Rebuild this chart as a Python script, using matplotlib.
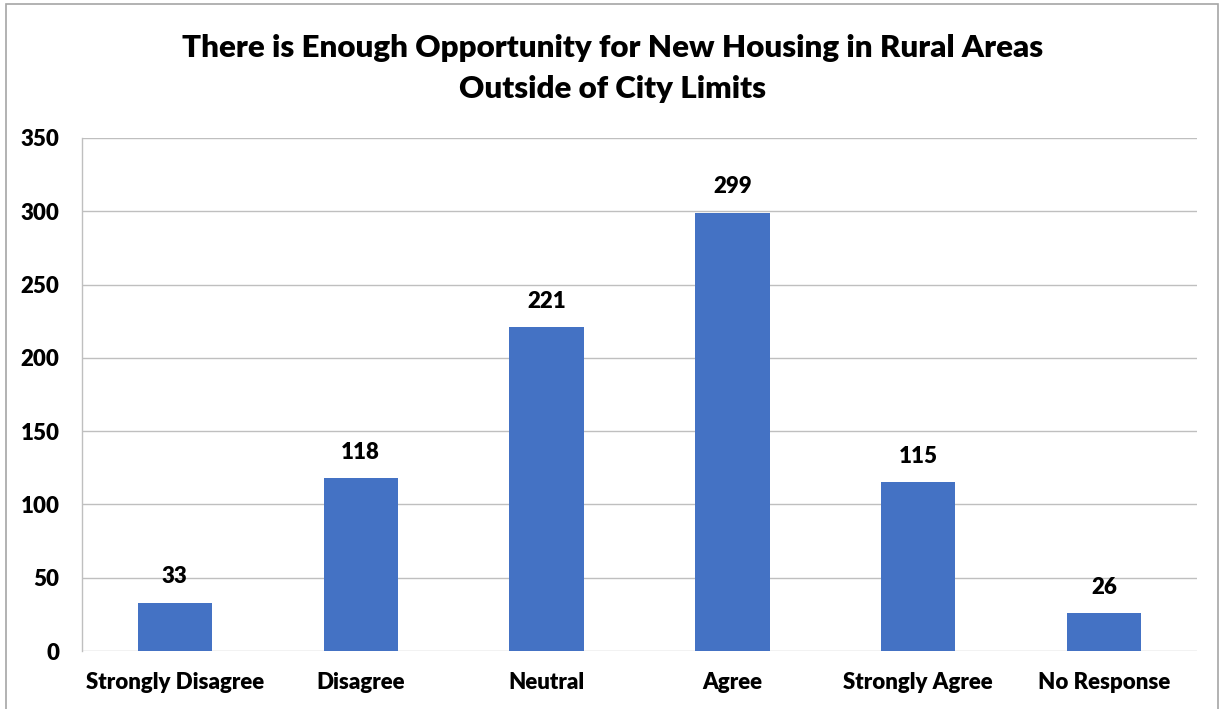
import matplotlib.pyplot as plt
from matplotlib.patches import Rectangle

categories = ['Strongly Disagree', 'Disagree', 'Neutral', 'Agree', 'Strongly Agree', 'No Response']
counts = [33, 118, 221, 299, 115, 26]
yticks = [0, 50, 100, 150, 200, 250, 300, 350]

plt.rcParams['font.family'] = ['Lato', 'DejaVu Sans']
W = 'heavy'

fig = plt.figure(figsize=(12.25, 7.09), dpi=100)
ax = fig.add_axes([0.0669, 0.0818, 0.9102, 0.7236])

x = range(len(categories))
bars = ax.bar(x, counts, width=0.4, color='#4472C4', zorder=3)
for b, v in zip(bars, counts):
    ax.annotate(str(v), (b.get_x() + b.get_width() / 2, v), xytext=(0, 11),
                textcoords='offset points', ha='center', va='bottom',
                fontsize=16, fontweight=W)

ax.set_xlim(-0.5, len(categories) - 0.5)
ax.set_ylim(0, 350)
ax.set_yticks(yticks)
ax.set_xticks(list(x))
ax.set_xticklabels(categories, fontsize=16, fontweight=W)
ax.tick_params(axis='y', labelsize=16, length=0, pad=16)
ax.tick_params(axis='x', length=0, pad=15)
for lab in ax.get_yticklabels():
    lab.set_fontweight(W)
ax.grid(axis='y', color='#BFBFBF', linewidth=1.0, zorder=0)
for side in ['top', 'right', 'bottom']:
    ax.spines[side].set_visible(False)
ax.spines['left'].set_color('#BFBFBF')
ax.spines['left'].set_linewidth(1.0)

fig.text(0.5, 0.933, 'There is Enough Opportunity for New Housing in Rural Areas',
         ha='center', va='center', fontsize=22.5, fontweight=W)
fig.text(0.5, 0.875, 'Outside of City Limits',
         ha='center', va='center', fontsize=22.5, fontweight=W)

# outer frame around the chart
fig.patches.append(Rectangle((6 / 1225, -0.05), 1212 / 1225, 1.05 - 4 / 709,
                             transform=fig.transFigure, fill=False,
                             edgecolor='#A6A6A6', linewidth=1.2))

fig.savefig('out.png', dpi=100)
